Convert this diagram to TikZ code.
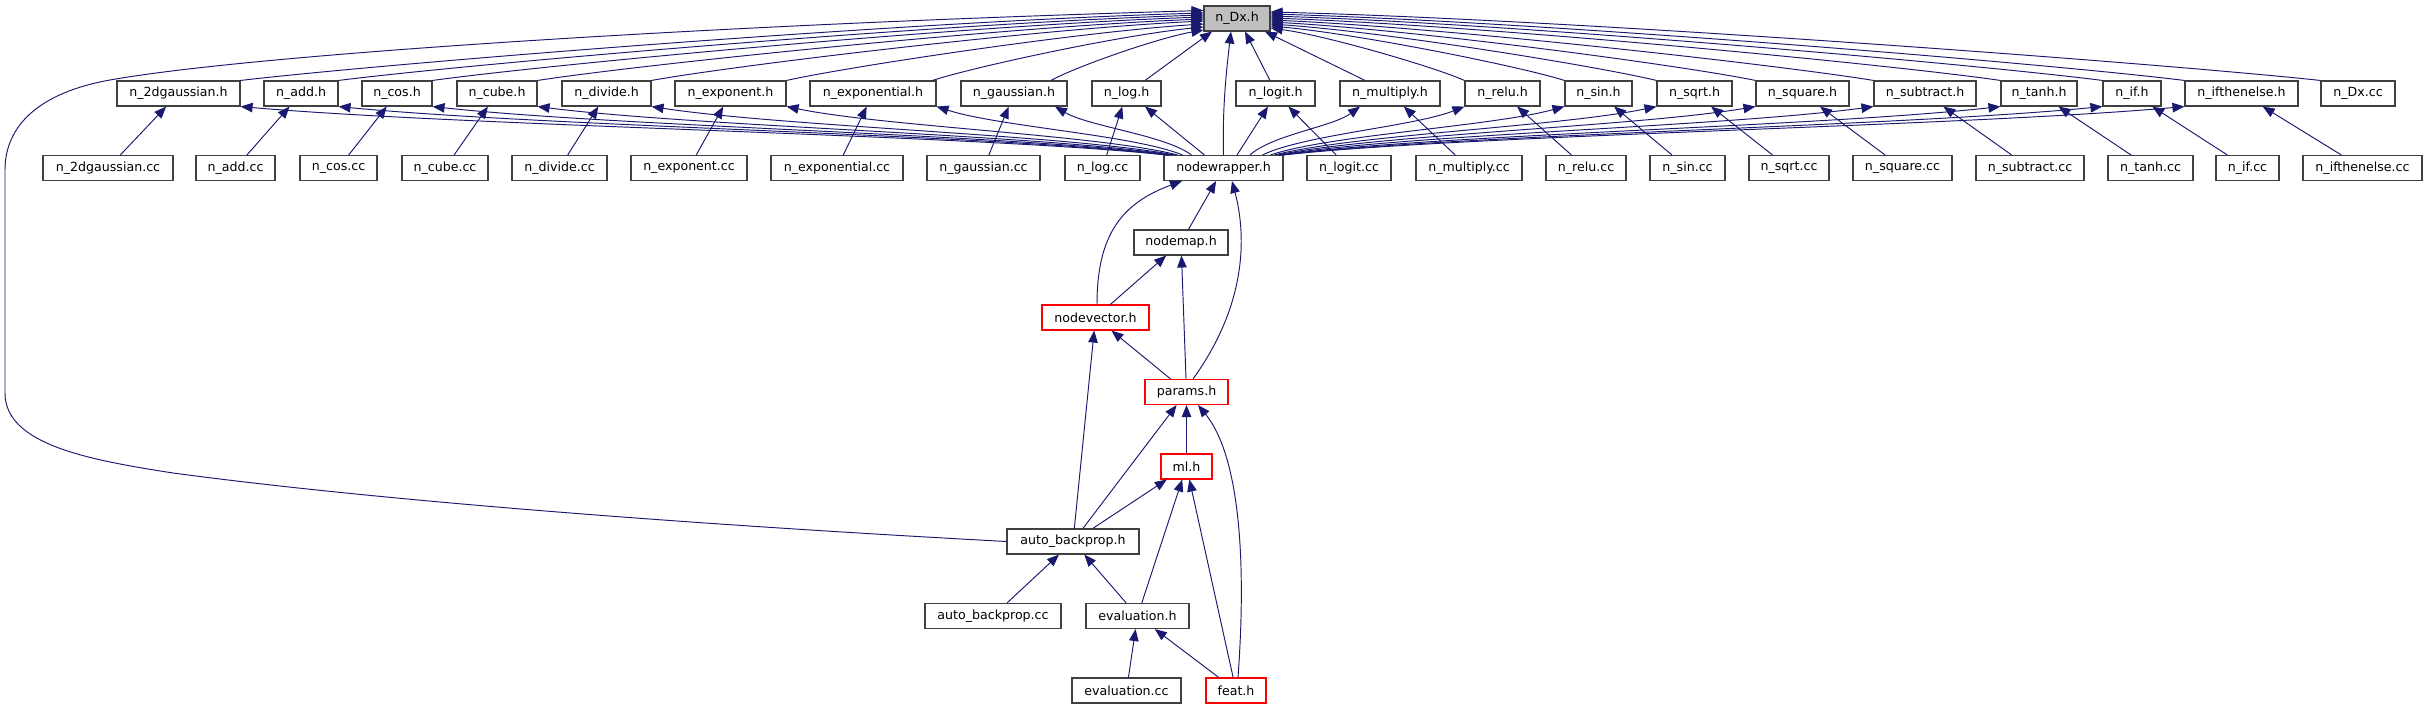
\documentclass[tikz,border=0pt]{standalone}
\usepackage{fontspec}
\setmainfont{DejaVu Sans}
\usetikzlibrary{arrows.meta}
\definecolor{edgeblue}{HTML}{191970}
\definecolor{boxgray}{HTML}{404040}
\definecolor{hlgray}{HTML}{BFBFBF}
\begin{document}
\begin{tikzpicture}[x=1pt,y=-1pt,
  box/.style={draw=boxgray, line width=1.1pt, fill=white, minimum height=25pt, inner sep=0pt,
    font=\fontsize{12.6}{15}\selectfont, text=black},
  redbox/.style={box, draw=red},
  focus/.style={box, fill=hlgray},
  dep/.style={draw=edgeblue, line width=0.95pt, {Triangle[length=12pt,width=9.5pt]}-}]
\fill[white] (0,0) rectangle (2427,709);
\useasboundingbox (0,0) rectangle (2427,709);
% row 0
\node[focus, minimum width=66pt] (nDx) at (1237,18.5) {n\_Dx.h};
% row 1
\node[box, minimum width=123pt] (n2dgh) at (178.5,93.5) {n\_2dgaussian.h};
\node[box, minimum width=74pt] (naddh) at (301,93.5) {n\_add.h};
\node[box, minimum width=70pt] (ncosh) at (397,93.5) {n\_cos.h};
\node[box, minimum width=80pt] (ncubeh) at (497,93.5) {n\_cube.h};
\node[box, minimum width=89pt] (ndivideh) at (606.5,93.5) {n\_divide.h};
\node[box, minimum width=111pt] (nexponenth) at (730.5,93.5) {n\_exponent.h};
\node[box, minimum width=126pt] (nexponentialh) at (873,93.5) {n\_exponential.h};
\node[box, minimum width=106pt] (ngaussianh) at (1014,93.5) {n\_gaussian.h};
\node[box, minimum width=69pt] (nlogh) at (1126.5,93.5) {n\_log.h};
\node[box, minimum width=79pt] (nlogith) at (1275.5,93.5) {n\_logit.h};
\node[box, minimum width=100pt] (nmultiplyh) at (1390,93.5) {n\_multiply.h};
\node[box, minimum width=75pt] (nreluh) at (1502.5,93.5) {n\_relu.h};
\node[box, minimum width=67pt] (nsinh) at (1598.5,93.5) {n\_sin.h};
\node[box, minimum width=75pt] (nsqrth) at (1694.5,93.5) {n\_sqrt.h};
\node[box, minimum width=93pt] (nsquareh) at (1802.5,93.5) {n\_square.h};
\node[box, minimum width=102pt] (nsubtracth) at (1925,93.5) {n\_subtract.h};
\node[box, minimum width=76pt] (ntanhh) at (2039,93.5) {n\_tanh.h};
\node[box, minimum width=58pt] (nifh) at (2132,93.5) {n\_if.h};
\node[box, minimum width=113pt] (nifthenelseh) at (2241.5,93.5) {n\_ifthenelse.h};
\node[box, minimum width=74pt] (nDxcc) at (2358,93.5) {n\_Dx.cc};
% row 2
\node[box, minimum width=130pt] (n2dgcc) at (108,168) {n\_2dgaussian.cc};
\node[box, minimum width=79pt] (naddcc) at (235.5,168) {n\_add.cc};
\node[box, minimum width=77pt] (ncoscc) at (338.5,168) {n\_cos.cc};
\node[box, minimum width=86pt] (ncubecc) at (445,168) {n\_cube.cc};
\node[box, minimum width=95pt] (ndividecc) at (559.5,168) {n\_divide.cc};
\node[box, minimum width=116pt] (nexponentcc) at (689,168) {n\_exponent.cc};
\node[box, minimum width=132pt] (nexponentialcc) at (837,168) {n\_exponential.cc};
\node[box, minimum width=113pt] (ngaussiancc) at (983.5,168) {n\_gaussian.cc};
\node[box, minimum width=75pt] (nlogcc) at (1102.5,168) {n\_log.cc};
\node[box, minimum width=119pt] (nodewrapper) at (1223.5,168) {nodewrapper.h};
\node[box, minimum width=84pt] (nlogitcc) at (1349,168) {n\_logit.cc};
\node[box, minimum width=106pt] (nmultiplycc) at (1469,168) {n\_multiply.cc};
\node[box, minimum width=80pt] (nrelucc) at (1586,168) {n\_relu.cc};
\node[box, minimum width=75pt] (nsincc) at (1687.5,168) {n\_sin.cc};
\node[box, minimum width=80pt] (nsqrtcc) at (1789,168) {n\_sqrt.cc};
\node[box, minimum width=99pt] (nsquarecc) at (1902.5,168) {n\_square.cc};
\node[box, minimum width=108pt] (nsubtractcc) at (2030,168) {n\_subtract.cc};
\node[box, minimum width=85pt] (ntanhcc) at (2150.5,168) {n\_tanh.cc};
\node[box, minimum width=63pt] (nifcc) at (2247.5,168) {n\_if.cc};
\node[box, minimum width=119pt] (nifthenelsecc) at (2362.5,168) {n\_ifthenelse.cc};
% lower part
\node[box, minimum width=94pt] (nodemap) at (1181,242.5) {nodemap.h};
\node[redbox, minimum width=107pt] (nodevector) at (1095.5,317.5) {nodevector.h};
\node[redbox, minimum width=83pt] (params) at (1186.5,392) {params.h};
\node[redbox, minimum width=51pt] (ml) at (1186.5,466.5) {ml.h};
\node[box, minimum width=132pt] (autobp) at (1073,541.5) {auto\_backprop.h};
\node[box, minimum width=136pt] (autobpcc) at (993,616) {auto\_backprop.cc};
\node[box, minimum width=103pt] (evalh) at (1137.5,616) {evaluation.h};
\node[box, minimum width=109pt] (evalcc) at (1126.5,690.5) {evaluation.cc};
\node[redbox, minimum width=60pt] (feat) at (1236,690.5) {feat.h};

% ---- n_Dx.h <- headers (left)
\draw[dep] ([yshift=5.5pt]nDx.west) .. controls +(-290,8) and +(145,-17) .. (n2dgh.north east);
\draw[dep] ([yshift=3.5pt]nDx.west) .. controls +(-260,8) and +(130,-16.5) .. (naddh.north east);
\draw[dep] ([yshift=1.5pt]nDx.west) .. controls +(-232,8) and +(116,-16) .. (ncosh.north east);
\draw[dep] ([yshift=-0.5pt]nDx.west) .. controls +(-200,8) and +(100,-15.5) .. (ncubeh.north east);
\draw[dep] ([yshift=-2.5pt]nDx.west) .. controls +(-166,8) and +(83,-15) .. (ndivideh.north east);
\draw[dep] ([yshift=-5.5pt]nDx.west) .. controls +(-125,8) and +(63,-14) .. (nexponenth.north east);
\draw[dep] ([yshift=-8.5pt]nDx.west) .. controls +(-82,8) and +(41,-13.5) .. ([xshift=-4pt]nexponentialh.north east);
\draw[dep] ([yshift=-11.5pt]nDx.west) .. controls +(-46,8) and +(23,-13) .. ([xshift=37pt]ngaussianh.north);
\draw[dep] ([xshift=-25pt]nDx.south) -- ([xshift=18.5pt]nlogh.north);
\draw[dep] ([xshift=-6pt]nDx.south) .. controls +(-6,50) and +(-1,-40) .. (nodewrapper.north);
\draw[dep] ([xshift=8pt]nDx.south) -- ([xshift=-5.5pt]nlogith.north);
\draw[dep] ([xshift=28pt]nDx.south) -- ([xshift=-25pt]nmultiplyh.north);
% ---- n_Dx.h <- headers (right)
\draw[dep] ([yshift=-9.5pt]nDx.east) .. controls +(58,8) and +(-29,-13) .. (nreluh.north west);
\draw[dep] ([yshift=-7.5pt]nDx.east) .. controls +(88,8) and +(-44,-14) .. (nsinh.north west);
\draw[dep] ([yshift=-5.5pt]nDx.east) .. controls +(116,8) and +(-58,-14) .. (nsqrth.north west);
\draw[dep] ([yshift=-3.5pt]nDx.east) .. controls +(146,8) and +(-73,-15) .. (nsquareh.north west);
\draw[dep] ([yshift=-1.5pt]nDx.east) .. controls +(181,8) and +(-91,-15) .. (nsubtracth.north west);
\draw[dep] ([yshift=0.5pt]nDx.east) .. controls +(219,8) and +(-110,-16) .. (ntanhh.north west);
\draw[dep] ([yshift=2.5pt]nDx.east) .. controls +(250,8) and +(-125,-16) .. (nifh.north west);
\draw[dep] ([yshift=4.5pt]nDx.east) .. controls +(275,8) and +(-137,-17) .. (nifthenelseh.north west);
\draw[dep] ([yshift=6.5pt]nDx.east) .. controls +(315,8) and +(-158,-17) .. (nDxcc.north west);
% ---- long edge n_Dx.h <- auto_backprop.h
\draw[dep] ([yshift=8pt]nDx.west) .. controls (700,25) and (250,55) .. (110,80)
   .. controls (40,92.5) and (5,125) .. (5,170) -- (5,393)
   .. controls (5,445) and (90,460) .. (173,473)
   .. controls (450,510) and (850,533) .. (autobp.west);

% ---- headers <- nodewrapper.h (left)
\draw[dep] (n2dgh.south east) .. controls +(231,20) and +(-185,-20) .. ([xshift=2pt]nodewrapper.north west);
\draw[dep] (naddh.south east) .. controls +(207,20) and +(-166,-20) .. ([xshift=4pt]nodewrapper.north west);
\draw[dep] (ncosh.south east) .. controls +(184,20) and +(-148,-20) .. ([xshift=6pt]nodewrapper.north west);
\draw[dep] (ncubeh.south east) .. controls +(159,20) and +(-127,-20) .. ([xshift=8pt]nodewrapper.north west);
\draw[dep] (ndivideh.south east) .. controls +(131,20) and +(-105,-20) .. ([xshift=11pt]nodewrapper.north west);
\draw[dep] (nexponenth.south east) .. controls +(98,20) and +(-78,-20) .. ([xshift=14pt]nodewrapper.north west);
\draw[dep] (nexponentialh.south east) .. controls +(62,20) and +(-49,-20) .. ([xshift=19pt]nodewrapper.north west);
\draw[dep] ([xshift=41pt]ngaussianh.south) .. controls +(34,20) and +(-27,-20) .. ([xshift=28pt]nodewrapper.north west);
\draw[dep] ([xshift=18.5pt]nlogh.south) -- ([xshift=41pt]nodewrapper.north west);
% ---- headers <- nodewrapper.h (right)
\draw[dep] ([xshift=-7.5pt]nlogith.south) -- ([xshift=13.5pt]nodewrapper.north);
\draw[dep] ([xshift=-30pt]nmultiplyh.south) .. controls +(-27,20) and +(22,-20) .. ([xshift=26.5pt]nodewrapper.north);
\draw[dep] (nreluh.south west) .. controls +(-51,20) and +(41,-20) .. ([xshift=-21pt]nodewrapper.north east);
\draw[dep] (nsinh.south west) .. controls +(-74,20) and +(59,-20) .. ([xshift=-13pt]nodewrapper.north east);
\draw[dep] (nsqrth.south west) .. controls +(-96,20) and +(77,-20) .. ([xshift=-9pt]nodewrapper.north east);
\draw[dep] (nsquareh.south west) .. controls +(-120,20) and +(96,-20) .. ([xshift=-6pt]nodewrapper.north east);
\draw[dep] (nsubtracth.south west) .. controls +(-149,20) and +(119,-20) .. ([xshift=-4pt]nodewrapper.north east);
\draw[dep] (ntanhh.south west) .. controls +(-180,20) and +(144,-20) .. ([xshift=-2pt]nodewrapper.north east);
\draw[dep] (nifh.south west) .. controls +(-205,20) and +(164,-20) .. ([xshift=-1pt]nodewrapper.north east);
\draw[dep] (nifthenelseh.south west) .. controls +(-226,20) and +(180,-20) .. (nodewrapper.north east);

% ---- headers <- sources
\draw[dep] (n2dgh) -- (n2dgcc);
\draw[dep] (naddh) -- (naddcc);
\draw[dep] (ncosh) -- (ncoscc);
\draw[dep] (ncubeh) -- (ncubecc);
\draw[dep] (ndivideh) -- (ndividecc);
\draw[dep] (nexponenth) -- (nexponentcc);
\draw[dep] (nexponentialh) -- (nexponentialcc);
\draw[dep] (ngaussianh) -- (ngaussiancc);
\draw[dep] (nlogh) -- (nlogcc);
\draw[dep] (nlogith) -- (nlogitcc);
\draw[dep] (nmultiplyh) -- (nmultiplycc);
\draw[dep] (nreluh) -- (nrelucc);
\draw[dep] (nsinh) -- (nsincc);
\draw[dep] (nsqrth) -- (nsqrtcc);
\draw[dep] (nsquareh) -- (nsquarecc);
\draw[dep] (nsubtracth) -- (nsubtractcc);
\draw[dep] (ntanhh) -- (ntanhcc);
\draw[dep] (nifh) -- (nifcc);
\draw[dep] (nifthenelseh) -- (nifthenelsecc);

% ---- lower part
\draw[dep] (nodewrapper) -- (nodemap);
\draw[dep] ([xshift=-41.5pt]nodewrapper.south) .. controls +(-60,22) and +(0,-70) .. ([xshift=1.5pt]nodevector.north);
\draw[dep] ([xshift=8.5pt]nodewrapper.south) .. controls +(13,49) and +(57,-79) .. ([xshift=6.5pt]params.north);
\draw[dep] (nodemap) -- (nodevector);
\draw[dep] (nodemap) -- (params);
\draw[dep] (nodevector) -- (params);
\draw[dep] (nodevector) -- (autobp);
\draw[dep] (params) -- (autobp);
\draw[dep] (params) -- (ml);
\draw[dep] ([xshift=11.5pt]params.south) .. controls +(37,45) and +(10,-138) .. ([xshift=2pt]feat.north);
\draw[dep] (ml) -- (autobp);
\draw[dep] (ml) -- (evalh);
\draw[dep] (ml) -- (feat);
\draw[dep] (autobp) -- (autobpcc);
\draw[dep] (autobp) -- (evalh);
\draw[dep] (evalh) -- (evalcc);
\draw[dep] (evalh) -- (feat);
\end{tikzpicture}
\end{document}
